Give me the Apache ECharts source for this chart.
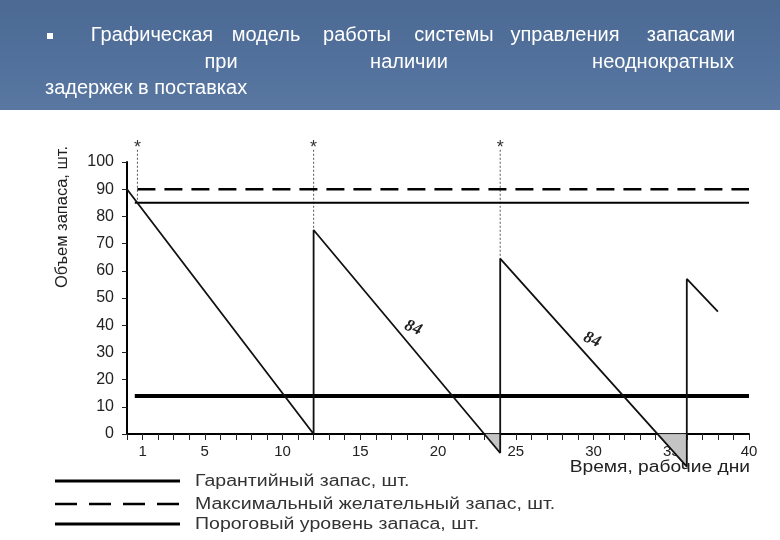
<!DOCTYPE html>
<html><head><meta charset="utf-8">
<script src="https://cdn.jsdelivr.net/npm/echarts@6/dist/echarts.min.js"></script>
<style>html,body{margin:0;padding:0;background:#fff}#c{width:780px;height:540px}</style>
</head><body><div id="c"></div>
<script>
// ---- data ----
const xTickLabels = [1, 5, 10, 15, 20, 25, 30, 35, 40];
const stockDays   = [0, 12, 12, 24, 24, 36, 36, 38];
const stockValues = [90, 0, 75, -7, 64.5, -12, 57, 45];
const peakDays = [12, 24, 36];
const peakValues = [75, 64.5, 57];
const peakLabels = ['75', '66', '57'];
const guaranteeLevel = 14;
const maxLevel = 90;
const thresholdLevel = 85;
const orderDays = [0.67, 12, 24];
const orderBottoms = [85, 75, 64.5];
const orderTop = 104.5;
const noteDays = [18.4, 29.9];
const noteValues = [39, 34.6];
const noteText = '84';
const legendNames = ['Гарантийный запас, шт.', 'Максимальный желательный запас, шт.', 'Пороговый уровень запаса, шт.'];
const titleLine1 = ['Графическая', 'модель', 'работы', 'системы', 'управления', 'запасами'];
const titleLine2 = ['при', 'наличии', 'неоднократных'];
const titleLine3 = 'задержек в поставках';
const yAxisName = 'Объем запаса, шт.';
const xAxisName = 'Время, рабочие дни';

// ---- build ----
const font = '"Liberation Sans", Arial, sans-serif';
const serif = '"Liberation Serif", "DejaVu Serif", serif';
const stock = stockDays.map((d, i) => [d, stockValues[i]]);

const deficits = [];
for (let i = 0; i < stock.length - 1; i++) {
  const [d0, v0] = stock[i], [d1, v1] = stock[i + 1];
  if (d1 > d0 && v1 < 0 && v0 > 0) {
    const cx = d0 + v0 / (v0 - v1) * (d1 - d0);
    deficits.push([[cx, 0], [d1, v1], [d1, 0]]);
  }
}

const levelStyles = [
  { color: '#000', width: 4 },
  { color: '#000', width: 2.5, type: [18, 9] },
  { color: '#000', width: 2 }
];
const series = [
  { name: legendNames[0], type: 'line', data: [[0.5, guaranteeLevel], [40, guaranteeLevel]], symbol: 'none',
    lineStyle: levelStyles[0], z: 3 },
  { name: legendNames[1], type: 'line', data: [[0.67, maxLevel], [40, maxLevel]], symbol: 'none',
    lineStyle: levelStyles[1], z: 3 },
  { name: legendNames[2], type: 'line', data: [[0.5, thresholdLevel], [40, thresholdLevel]], symbol: 'none',
    lineStyle: levelStyles[2], z: 3 },
  { name: 'stock', type: 'line', data: stock, symbol: 'none', clip: false,
    lineStyle: { color: '#111', width: 1.8 }, z: 4 },
  { name: 'deficit', type: 'custom', clip: false, data: deficits.map((p, i) => i),
    renderItem: (params, api) => {
      const pts = deficits[params.dataIndex].map(p => api.coord(p));
      return { type: 'polygon', shape: { points: pts },
        style: { fill: '#c4c4c4', stroke: '#888', lineWidth: 0.5 } };
    }, z: 2 },
  { name: 'peaks', type: 'scatter', data: peakDays.map((d, i) => [d, peakValues[i]]), symbolSize: 1,
    itemStyle: { opacity: 0 }, clip: false,
    label: { show: true, position: 'left', distance: 5, color: '#222', fontFamily: serif, fontSize: 16,
      formatter: p => peakLabels[p.dataIndex] } }
];
orderDays.forEach((d, i) => {
  series.push({ name: 'order' + i, type: 'line', data: [[d, orderTop], [d, orderBottoms[i]]], symbol: 'none', clip: false,
    lineStyle: { color: '#555', width: 1, type: [2, 2] }, z: 1 });
});

const chart = echarts.init(document.getElementById('c'), null, { renderer: 'canvas' });
chart.setOption({
  animation: false,
  backgroundColor: '#fff',
  grid: { left: 127, right: 31, top: 162, bottom: 106 },
  xAxis: { type: 'value', min: 0, max: 40, interval: 1,
    axisLine: { show: true, lineStyle: { color: '#000', width: 2 } },
    axisTick: { show: true, length: 6, lineStyle: { color: '#222', width: 1 } },
    splitLine: { show: false },
    axisLabel: { margin: 10, fontSize: 15, fontFamily: font, color: '#222',
      formatter: v => xTickLabels.includes(v) ? String(v) : '' } },
  yAxis: { type: 'value', min: 0, max: 100, interval: 10,
    axisLine: { show: true, lineStyle: { color: '#000', width: 2 } },
    axisTick: { show: true, length: 5, lineStyle: { color: '#222' } },
    splitLine: { show: false },
    axisLabel: { margin: 13, fontSize: 16, fontFamily: font, color: '#222' } },
  series: series
});

// ---- graphics (header, axis names, legend, annotations) ----
const graphics = [
  { type: 'rect', shape: { x: 0, y: 0, width: 780, height: 110 }, z: -10,
    style: { fill: new echarts.graphic.LinearGradient(0, 0, 0, 1, [
      { offset: 0, color: '#4b6993' }, { offset: 0.6, color: '#52719c' }, { offset: 1, color: '#5977a1' }]) } },
  { type: 'rect', shape: { x: 47, y: 33, width: 6, height: 6 }, style: { fill: '#fff' } },
  { type: 'text', x: 62, y: 217, rotation: Math.PI / 2,
    style: { text: yAxisName, font: '16.5px ' + font, fill: '#222', align: 'center', verticalAlign: 'middle' } },
  { type: 'text', x: 750, y: 468, scaleX: 1.2,
    style: { text: xAxisName, font: '16px ' + font, fill: '#222', align: 'right', verticalAlign: 'middle' } },
  { type: 'text', x: 45, y: 88,
    style: { text: titleLine3, font: '20px ' + font, fill: '#fff', align: 'left', verticalAlign: 'middle' } }
];
const c1 = [152, 266, 357, 454, 565, 691];
titleLine1.forEach((w, i) => graphics.push({ type: 'text', x: c1[i], y: 35,
  style: { text: w, font: '20px ' + font, fill: '#fff', align: 'center', verticalAlign: 'middle' } }));
const c2 = [221, 409, 663];
titleLine2.forEach((w, i) => graphics.push({ type: 'text', x: c2[i], y: 62,
  style: { text: w, font: '20px ' + font, fill: '#fff', align: 'center', verticalAlign: 'middle' } }));

// legend (drawn manually, styled like the level lines)
const legendRows = [481, 504, 524];
legendNames.forEach((n, i) => {
  graphics.push({ type: 'line', shape: { x1: 55, y1: legendRows[i], x2: 180, y2: legendRows[i] },
    style: { stroke: '#000', lineWidth: i === 1 ? 2.5 : 3.2, lineDash: i === 1 ? [22, 12] : null } });
  graphics.push({ type: 'text', x: 195, y: legendRows[i] + 1, scaleX: 1.22,
    style: { text: n, font: '16px ' + font, fill: '#333', align: 'left', verticalAlign: 'middle' } });
});

// asterisks above the order lines
orderDays.forEach(d => {
  const p = chart.convertToPixel({ gridIndex: 0 }, [d, orderTop]);
  graphics.push({ type: 'text', x: p[0], y: p[1] - 2,
    style: { text: '*', font: '18px ' + font, fill: '#333', align: 'center', verticalAlign: 'middle' } });
});
// handwritten notes
noteDays.forEach((d, i) => {
  const p = chart.convertToPixel({ gridIndex: 0 }, [d, noteValues[i]]);
  graphics.push({ type: 'text', x: p[0], y: p[1], rotation: -0.4,
    style: { text: noteText, font: 'italic bold 17px ' + serif, fill: '#222', align: 'center', verticalAlign: 'middle' } });
});

chart.setOption({ graphic: graphics });
</script></body></html>
